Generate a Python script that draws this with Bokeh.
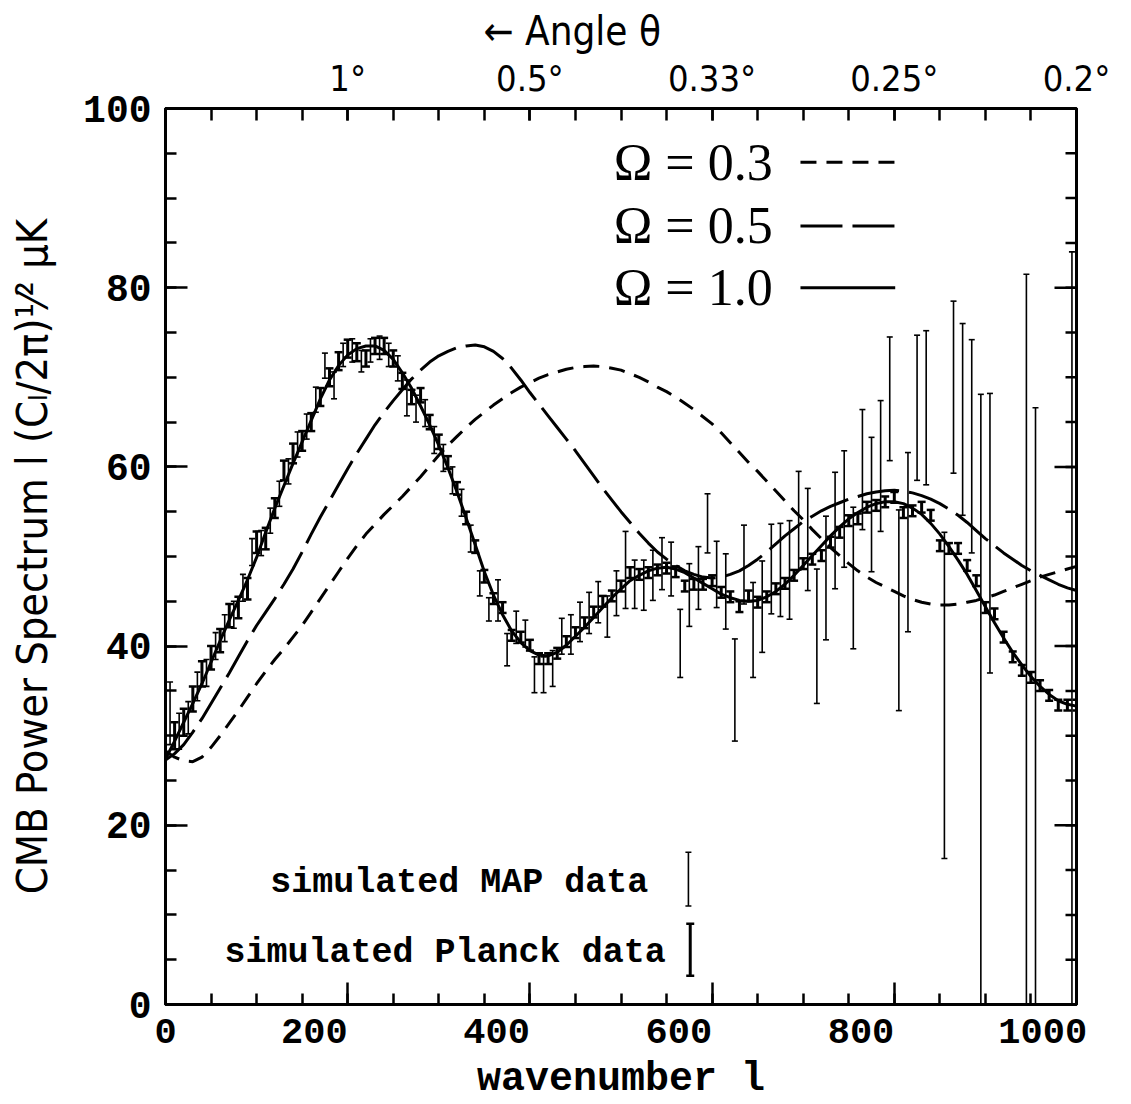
from bokeh.plotting import figure
from bokeh.models import Range1d, LinearAxis, FixedTicker, Label, ColumnDataSource
from bokeh.embed import file_html
from bokeh.resources import INLINE

# ---------------- data ----------------
theory_l = [0, 10, 20, 30, 40, 50, 60, 70, 80, 90, 100, 110, 120, 130, 140, 150, 160, 170,
            180, 190, 200, 210, 220, 230, 240, 250, 260, 270, 280, 290, 300, 310, 320, 330,
            340, 350, 360, 370, 380, 390, 400, 410, 420, 430, 440, 450, 460, 470, 480, 490,
            500, 510, 520, 530, 540, 550, 560, 570, 580, 590, 600, 610, 620, 630, 640, 650,
            660, 670, 680, 690, 700, 710, 720, 730, 740, 750, 760, 770, 780, 790, 800, 810,
            820, 830, 840, 850, 860, 870, 880, 890, 900, 910, 920, 930, 940, 950, 960, 970,
            980, 990, 1000]
omega_03 = [28.3, 27.6, 27.2, 27.1, 27.6, 28.7, 30.0, 31.4, 32.8, 34.3, 35.8, 37.2, 38.5,
            39.7, 41.0, 42.3, 43.8, 45.3, 46.8, 48.3, 49.8, 51.2, 52.5, 53.6, 54.7, 55.7,
            56.7, 57.8, 58.9, 60.1, 61.3, 62.4, 63.4, 64.4, 65.3, 66.1, 66.9, 67.6, 68.3,
            68.9, 69.4, 69.9, 70.3, 70.6, 70.9, 71.1, 71.2, 71.25, 71.2, 71.0, 70.8, 70.4,
            70.0, 69.5, 68.9, 68.4, 67.8, 67.1, 66.4, 65.6, 64.8, 63.8, 62.7, 61.6, 60.5,
            59.5, 58.4, 57.3, 56.2, 55.1, 54.1, 53.0, 52.0, 51.0, 50.1, 49.2, 48.4, 47.7,
            47.1, 46.6, 46.1, 45.6, 45.2, 44.9, 44.7, 44.6, 44.6, 44.7, 44.9, 45.1, 45.4,
            45.7, 46.1, 46.5, 46.9, 47.3, 47.7, 48.0, 48.3, 48.6, 48.9]
omega_05 = [27.3, 28.0, 29.0, 30.4, 31.9, 33.6, 35.3, 37.0, 38.8, 40.6, 42.3, 43.8, 45.3,
            46.9, 48.6, 50.5, 52.5, 54.4, 56.2, 58.0, 59.8, 61.5, 63.1, 64.7, 66.1, 67.4,
            68.6, 69.8, 70.8, 71.7, 72.4, 72.9, 73.3, 73.5, 73.6, 73.4, 72.9, 72.1, 71.0,
            69.7, 68.3, 67.0, 65.7, 64.4, 63.1, 61.8, 60.4, 59.0, 57.6, 56.3, 55.0, 53.8,
            52.6, 51.5, 50.5, 49.7, 49.0, 48.4, 48.0, 47.7, 47.6, 47.7, 48.0, 48.4, 49.0,
            49.7, 50.5, 51.4, 52.3, 53.1, 53.9, 54.5, 55.1, 55.6, 56.0, 56.4, 56.7, 57.0,
            57.2, 57.35, 57.4, 57.3, 57.1, 56.8, 56.4, 55.9, 55.3, 54.6, 53.8, 52.9, 52.0,
            51.2, 50.4, 49.7, 49.0, 48.4, 47.9, 47.4, 46.9, 46.5, 46.2]
omega_10 = [27.4, 29.4, 31.5, 33.6, 35.8, 38.2, 40.6, 42.9, 45.1, 47.4, 49.9, 52.7, 55.4,
            57.9, 60.4, 62.8, 65.2, 67.6, 69.7, 71.3, 72.5, 73.2, 73.5, 73.5, 73.0, 72.0,
            70.5, 68.8, 66.8, 64.7, 62.4, 59.9, 57.2, 54.3, 51.3, 48.3, 45.7, 43.5, 41.7,
            40.4, 39.5, 39.0, 38.9, 39.3, 40.1, 41.1, 42.1, 43.2, 44.3, 45.4, 46.4, 47.3,
            47.9, 48.4, 48.7, 48.8, 48.6, 48.2, 47.6, 47.0, 46.4, 45.8, 45.4, 45.1, 45.0,
            45.1, 45.5, 46.1, 46.9, 47.9, 49.0, 50.1, 51.2, 52.3, 53.3, 54.2, 54.9, 55.5,
            55.9, 56.1, 56.1, 55.9, 55.4, 54.7, 53.7, 52.5, 51.1, 49.6, 48.0, 46.2, 44.4,
            42.6, 40.9, 39.3, 37.9, 36.6, 35.5, 34.6, 33.9, 33.5, 33.3]

planck_l = [10, 20, 30, 40, 50, 60, 70, 80, 90, 100, 110, 120, 130, 140, 150, 160, 170, 180,
            190, 200, 210, 220, 230, 240, 250, 260, 270, 280, 290, 300, 310, 320, 330, 340,
            350, 360, 370, 380, 390, 400, 410, 420, 430, 440, 450, 460, 470, 480, 490, 500,
            510, 520, 530, 540, 550, 560, 570, 580, 590, 600, 610, 620, 630, 640, 650, 660,
            670, 680, 690, 700, 710, 720, 730, 740, 750, 760, 770, 780, 790, 800, 810, 820,
            830, 840, 850, 860, 870, 880, 890, 900, 910, 920, 930, 940, 950, 960, 970, 980,
            990, 1000]
planck_v = [30.0, 31.5, 34.1, 36.9, 38.7, 40.6, 43.4, 44.3, 46.4, 51.6,
            52.0, 55.4, 59.6, 61.5, 62.9, 65.0, 67.8, 70.0, 71.8, 73.2,
            72.8, 72.1, 73.5, 73.5, 72.1, 69.6, 67.8, 68.0, 65.0, 62.8,
            60.5, 57.6, 54.3, 51.1, 47.8, 45.3, 44.3, 41.2, 41.0, 40.1,
            38.6, 38.6, 39.2, 40.5, 41.5, 42.6, 43.8, 45.0, 45.6, 46.7,
            48.2, 48.0, 48.2, 48.5, 48.7, 48.3, 46.7, 46.9, 46.9, 47.3,
            46.0, 45.5, 44.4, 45.6, 44.9, 45.5, 46.4, 47.0, 47.9, 49.2,
            49.7, 50.1, 51.6, 52.7, 54.0, 54.2, 55.5, 55.7, 56.1, 56.6,
            54.9, 55.1, 55.5, 54.6, 51.2, 50.9, 50.9, 49.0, 47.3, 44.3,
            43.6, 41.0, 38.8, 37.3, 36.5, 35.6, 34.5, 33.4, 33.4, 33.4]
planck_err = [1.5, 1.5, 1.4, 1.4, 1.3, 1.3, 1.3, 1.2, 1.2, 1.2,
              1.2, 1.1, 1.1, 1.1, 1.1, 1.0, 1.0, 1.0, 1.0, 1.0,
              1.0, 0.9, 0.9, 0.9, 0.9, 0.9, 0.8, 0.8, 0.8, 0.8,
              0.7, 0.7, 0.7, 0.7, 0.7, 0.6, 0.6, 0.6, 0.6, 0.6,
              0.6, 0.6, 0.6, 0.6, 0.6, 0.6, 0.6, 0.6, 0.6, 0.6,
              0.6, 0.6, 0.6, 0.6, 0.6, 0.6, 0.6, 0.6, 0.6, 0.6,
              0.6, 0.6, 0.6, 0.6, 0.6, 0.6, 0.6, 0.6, 0.6, 0.6,
              0.6, 0.6, 0.6, 0.6, 0.6, 0.6, 0.6, 0.6, 0.6, 0.6,
              0.6, 0.6, 0.6, 0.6, 0.6, 0.6, 0.6, 0.6, 0.6, 0.6,
              0.6, 0.6, 0.6, 0.6, 0.6, 0.6, 0.6, 0.6, 0.6, 0.6]

map_l = [5, 15, 25, 35, 45, 55, 65, 75, 85, 95, 105, 115, 125, 135, 145, 155, 165, 175,
         185, 195, 205, 215, 225, 235, 245, 255, 265, 275, 285, 295, 305, 315, 325, 335,
         345, 355, 365, 375, 385, 395, 405, 415, 425, 435, 445, 455, 465, 475, 485, 495,
         505, 515, 525, 535, 545, 555, 565, 575, 585, 595, 605, 615, 625, 635, 645, 655,
         665, 675, 685, 695, 705, 715, 725, 735, 745, 755, 765, 775, 785, 795, 805, 815,
         825, 835, 855, 865, 875, 885, 895, 905, 945, 955, 995]
map_v = [32.5, 30.5, 32.0, 35.5, 37.0, 40.0, 42.0, 43.5, 46.5, 50.5, 51.5, 54.0, 57.0, 59.5,
         62.5, 64.5, 67.5, 71.3, 69.1, 72.5, 73.0, 71.8, 73.0, 73.3, 72.5, 71.0, 67.7, 66.5,
         66.0, 63.0, 61.0, 58.5, 56.0, 52.0,
         47.0, 44.1, 45.1, 39.6, 42.1, 41.4, 36.8, 36.8, 37.5, 41.1, 41.3, 42.7, 43.7, 44.9,
         43.3, 45.9, 48.5, 46.9, 46.8, 47.9, 49.2, 48.6, 40.3, 45.7, 47.6, 53.7, 48.0, 46.1,
         35.1, 49.1, 41.8, 44.4, 48.6, 48.5, 48.5, 54.0, 51.9, 41.1, 47.6, 52.9, 55.3, 47.6,
         59.7, 55.8, 60.1, 67.6, 44.0, 51.6, 66.6, 66.6,
         34.5, 68.9, 65.3, 62.3, 28.0, 52.6, 38.0, 30.0, 40.0]
map_err = [3.5, 2.0, 1.8, 1.6, 1.5, 1.5, 1.5, 1.5, 1.5, 1.5, 1.4, 1.4, 1.4, 1.4, 1.4, 1.4,
           1.4, 1.4, 1.5, 1.3, 1.3, 1.2, 1.3, 1.3, 1.3, 1.4, 2.0, 1.5, 1.5, 1.5, 1.5, 1.5,
           1.5, 1.5,
           1.4, 1.3, 2.3, 1.8, 1.8, 1.5, 2.0, 2.0, 2.0, 2.0, 2.2, 2.2, 2.3, 2.3, 2.3, 2.5,
           4.3, 2.7, 2.8, 2.8, 2.9, 3.0, 3.8, 3.5, 3.5, 3.3, 3.7, 4.2, 5.7, 4.4, 5.3, 5.1,
           5.0, 5.2, 5.5, 5.5, 5.7, 7.5, 6.9, 6.5, 6.5, 7.9, 6.7, 7.5, 7.3, 6.9, 11.2, 10.0,
           8.1, 8.6,
           18.2, 9.6, 10.7, 11.9, 40.1, 15.6, 43.5, 36.6, 44.0]

y_ticks = [0, 20, 40, 60, 80, 100]
y_minor = [0, 5, 10, 15, 20, 25, 30, 35, 40, 45, 50, 55, 60, 65, 70, 75, 80, 85, 90, 95, 100]
x_ticks = [0, 200, 400, 600, 800, 1000]
x_tick_labels = ["0", "200", "400", "600", "800", "1000"]
x_minor = [0, 50, 100, 150, 200, 250, 300, 350, 400, 450, 500, 550, 600, 650, 700, 750,
           800, 850, 900, 950, 1000]
angle_ticks = [200, 400, 600, 800, 1000]
angle_labels = ["1°", "0.5°", "0.33°", "0.25°", "0.2°"]

# ---------------- figure ----------------
p = figure(width=1131, height=1104, x_range=Range1d(0, 1000), y_range=Range1d(0, 100),
           output_backend="svg", toolbar_location=None,
           min_border_left=165, min_border_right=55, min_border_top=108, min_border_bottom=100)
p.grid.visible = False
p.outline_line_color = "black"
p.outline_line_width = 3
p.background_fill_color = "white"
p.border_fill_color = "white"

MONO = "Liberation Mono"
NARROW = "DejaVu Sans Condensed, Roboto, sans-serif"
NBSP = "\u00a0"


def style_axis(ax, major_in, minor_in):
    ax.axis_line_width = 3
    ax.axis_line_color = "black"
    ax.major_tick_in = major_in
    ax.major_tick_out = 0
    ax.minor_tick_in = minor_in
    ax.minor_tick_out = 0
    ax.major_tick_line_width = 2.5
    ax.minor_tick_line_width = 2.5
    ax.major_tick_line_color = "black"
    ax.minor_tick_line_color = "black"


# left axis
yax = p.yaxis[0]
yax.ticker = FixedTicker(ticks=y_ticks, minor_ticks=y_minor)
style_axis(yax, 22, 11)
yax.major_label_text_font = MONO
yax.major_label_text_font_style = "bold"
yax.major_label_text_font_size = "38px"
yax.major_label_text_color = "black"
yax.major_label_standoff = 14
yax.axis_label = "CMB Power Spectrum l (Cₗ/2π)¹⁄² μK"
yax.axis_label_text_font = NARROW
yax.axis_label_text_font_style = "normal"
yax.axis_label_text_font_size = "43px"
yax.axis_label_text_color = "black"
yax.axis_label_standoff = 23

# bottom axis: the labels (except 0) end at their tick, padded with no-break spaces
xax = p.xaxis[0]
xax.ticker = FixedTicker(ticks=x_ticks, minor_ticks=x_minor)
style_axis(xax, 22, 11)
pads = {0: 0, 200: 3, 400: 3, 600: 3, 800: 3, 1000: 2}
xax.major_label_overrides = {t: lab + NBSP * pads[t] for t, lab in zip(x_ticks, x_tick_labels)}
xax.major_label_text_font = MONO
xax.major_label_text_font_style = "bold"
xax.major_label_text_font_size = "37px"
xax.major_label_text_color = "black"
xax.major_label_standoff = 7
xax.axis_label = "wavenumber l"
xax.axis_label_text_font = MONO
xax.axis_label_text_font_style = "bold"
xax.axis_label_text_font_size = "40px"
xax.axis_label_text_color = "black"
xax.axis_label_standoff = 0

# top axis (angle): labelled ticks + unlabelled minor ticks of equal length
tax = LinearAxis(ticker=FixedTicker(ticks=angle_ticks, minor_ticks=x_minor),
                 major_label_overrides=dict(zip(angle_ticks, angle_labels)))
style_axis(tax, 12, 12)
tax.major_label_text_font = NARROW
tax.major_label_text_font_size = "36px"
tax.major_label_text_color = "black"
tax.major_label_standoff = 10
p.add_layout(tax, "above")

p.title.text = "← Angle θ"
p.title.align = "left"
p.title.offset = 318
p.title.text_font = NARROW
p.title.text_font_size = "40px"
p.title.text_font_style = "normal"
p.title.text_color = "black"
p.title.standoff = 2

# right-hand frame ticks (inward only)
p.scatter(x=[1000] * len(y_ticks), y=y_ticks, marker="dash", size=44, line_width=2.5,
          line_color="black")
p.scatter(x=[1000] * len(y_minor), y=y_minor, marker="dash", size=22, line_width=2.5,
          line_color="black")

# theory curves
p.line(theory_l, omega_03, line_color="black", line_width=3, line_dash="16 10")
p.line(theory_l, omega_05, line_color="black", line_width=3, line_dash="42 10")
p.line(theory_l, omega_10, line_color="black", line_width=3)

# MAP error bars (thin)
src_m = ColumnDataSource(dict(l=map_l,
                              lo=[v - e for v, e in zip(map_v, map_err)],
                              hi=[v + e for v, e in zip(map_v, map_err)]))
p.segment(x0="l", y0="lo", x1="l", y1="hi", source=src_m, line_color="black", line_width=1.6)
p.scatter(x="l", y="lo", source=src_m, marker="dash", size=6, line_width=1.6, line_color="black")
p.scatter(x="l", y="hi", source=src_m, marker="dash", size=6, line_width=1.6, line_color="black")

# Planck error bars (thick)
src_p = ColumnDataSource(dict(l=planck_l,
                              lo=[v - e for v, e in zip(planck_v, planck_err)],
                              hi=[v + e for v, e in zip(planck_v, planck_err)]))
p.segment(x0="l", y0="lo", x1="l", y1="hi", source=src_p, line_color="black", line_width=3)
p.scatter(x="l", y="lo", source=src_p, marker="dash", size=8, line_width=2.5, line_color="black")
p.scatter(x="l", y="hi", source=src_p, marker="dash", size=8, line_width=2.5, line_color="black")

# Omega legend
leg_names = ["Ω = 0.3", "Ω = 0.5", "Ω = 1.0"]
leg_dash = ["16 10", "42 10", "solid"]
leg_y = [94.0, 86.9, 80.0]
for name, dash, yy in zip(leg_names, leg_dash, leg_y):
    p.add_layout(Label(x=492, y=yy, text=name, text_font="Liberation Serif",
                       text_font_size="52px", text_baseline="middle", text_align="left",
                       text_color="black"))
    p.line([697, 801], [yy, yy], line_color="black", line_width=3, line_dash=dash)

# data legend
p.add_layout(Label(x=530, y=13.6, text="simulated MAP data", text_font=MONO,
                   text_font_style="bold", text_font_size="35px", text_align="right",
                   text_baseline="middle", text_color="black"))
p.add_layout(Label(x=549, y=5.8, text="simulated Planck data", text_font=MONO,
                   text_font_style="bold", text_font_size="35px", text_align="right",
                   text_baseline="middle", text_color="black"))
p.segment(x0=[574], y0=[11.0], x1=[574], y1=[17.0], line_color="black", line_width=1.6)
p.scatter(x=[574, 574], y=[11.0, 17.0], marker="dash", size=6, line_width=1.6, line_color="black")
p.segment(x0=[576], y0=[3.2], x1=[576], y1=[9.0], line_color="black", line_width=3)
p.scatter(x=[576, 576], y=[3.2, 9.0], marker="dash", size=8, line_width=2.5, line_color="black")

open("out.html", "w").write(file_html(p, INLINE))
